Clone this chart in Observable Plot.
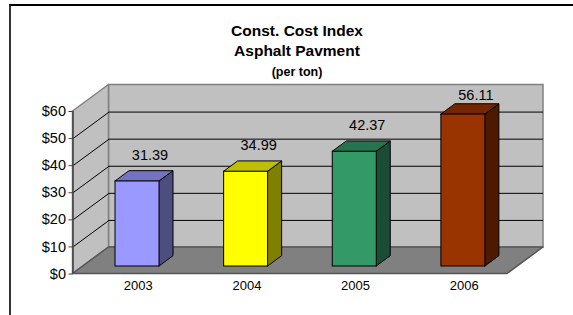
<!DOCTYPE html>
<html><head><meta charset="utf-8">
<script src="https://cdn.jsdelivr.net/npm/d3@7"></script>
<script src="https://cdn.jsdelivr.net/npm/@observablehq/plot@0.6"></script>
<style>
html,body{margin:0;padding:0;background:#fff;overflow:hidden;width:573px;height:315px;}
#frame{position:absolute;left:9px;top:4px;width:700px;height:400px;border-top:2px solid #000;border-left:2px solid #333;box-sizing:border-box;}
#wrap{position:absolute;left:0;top:0;width:573px;}
#title{height:84px;box-sizing:border-box;padding-top:21px;padding-left:21px;text-align:center;font-family:"Liberation Sans",Arial,sans-serif;font-weight:bold;font-size:15.5px;line-height:20.3px;color:#000;}
#title .sub{font-size:12.5px;display:block;}
#title span{display:block;}
</style></head>
<body>
<div id="frame"></div>
<div id="wrap"><div id="title"></div><div id="chart"></div></div>
<script>
// ---- data ----
const titleLines = ["Const. Cost Index", "Asphalt Pavment", "(per ton)"];
const years = ["2003", "2004", "2005", "2006"];
const values = [31.39, 34.99, 42.37, 56.11];
const yTicks = [0, 10, 20, 30, 40, 50, 60];

// ---- styles ----
const frontColors = ["#9999FF", "#FFFF00", "#339966", "#993300"];
const topColors   = ["#7373BF", "#BFBF00", "#267350", "#732600"];
const sideColors  = ["#4D4D80", "#808000", "#1A4D33", "#4D1A00"];

// ---- title ----
const t = document.getElementById("title");
titleLines.forEach((s, i) => {
  const sp = document.createElement("span");
  sp.textContent = s;
  if (i === 2) sp.className = "sub";
  t.appendChild(sp);
});

// ---- layout ----
const W = 573, H = 231, ML = 72.5, MR = 66, MT = 27, MB = 41.5;
const n = years.length;
const yMax = yTicks[yTicks.length - 1];
const XS = (W - ML - MR) / n;          // px per x unit
const YS = (H - MT - MB) / yMax;       // px per value unit
const px = p => p / XS, pv = p => p / YS;
const WX = px(36), WY = pv(26.5);      // wall depth
const BFX = px(10.2), BFY = pv(7.5);   // bar front plane offset
const BDX = px(14), BDY = pv(10.3);    // bar depth
const HW = px(22);                     // bar half width
const LX = px(12.5);                   // label x offset
const LABEL_MAX = yMax + WY - pv(10.5);

const rows = years.map((year, i) => {
  const c = i + 0.5 + BFX;
  return {year, value: values[i], l: c - HW, r: c + HW, c,
          front: frontColors[i], top: topColors[i], side: sideColors[i]};
});
const sides = rows.flatMap(d => [
  {year: d.year, x: d.r, y1: BFY, y2: d.value + BFY, fill: d.side},
  {year: d.year, x: d.r + BDX, y1: BFY + BDY, y2: d.value + BFY + BDY, fill: d.side}
]);
const tops = rows.flatMap(d => [
  {year: d.year, y: d.value + BFY, x1: d.l, x2: d.r, fill: d.top},
  {year: d.year, y: d.value + BFY + BDY, x1: d.l + BDX, x2: d.r + BDX, fill: d.top}
]);
const innerTicks = yTicks.filter(v => v > 0 && v < yMax);

const chart = Plot.plot({
  width: W, height: H,
  marginLeft: ML, marginRight: MR, marginTop: MT, marginBottom: MB,
  x: {domain: [0, n]},
  y: {domain: [0, yMax]},
  color: {type: "identity"},
  style: {fontFamily: "'Liberation Sans', Arial, sans-serif", color: "black", background: "transparent", overflow: "visible"},
  marks: [
    // back wall
    Plot.rect([0], {x1: WX, x2: n + WX, y1: WY, y2: yMax + WY, fill: "#C0C0C0", stroke: "#808080", strokeWidth: 1.5}),
    // left wall
    Plot.areaY([{x: 0, y1: 0, y2: yMax}, {x: WX, y1: WY, y2: yMax + WY}],
      {x: "x", y1: "y1", y2: "y2", fill: "#C0C0C0", stroke: "#808080", strokeWidth: 1.5}),
    // floor
    Plot.areaX([{y: 0, x1: 0, x2: n}, {y: WY, x1: WX, x2: n + WX}],
      {y: "y", x1: "x1", x2: "x2", fill: "#808080", stroke: "#555", strokeWidth: 1.5}),
    // gridlines on back wall
    Plot.ruleY(innerTicks, {y: d => d + WY, x1: WX, x2: n + WX, stroke: "black", strokeWidth: 1}),
    // diagonals on left wall
    Plot.link(innerTicks, {x1: 0, y1: d => d, x2: WX, y2: d => d + WY, stroke: "black", strokeWidth: 1}),
    // front left axis line
    Plot.ruleX([0], {y1: 0, y2: yMax, stroke: "#404040", strokeWidth: 1.5}),
    Plot.axisY(yTicks, {tickFormat: d => "$" + d, tickSize: 4, tickPadding: 3, fontSize: 14.5, stroke: "#404040"}),
    Plot.axisX(years.map((y, i) => i + 0.5), {tickFormat: d => years[Math.floor(d)], tickSize: 0, tickPadding: 7, dx: 11, fontSize: 13}),
    // bars
    Plot.areaY(sides, {x: "x", y1: "y1", y2: "y2", z: "year", fill: "fill", stroke: "black", strokeWidth: 1}),
    Plot.areaX(tops, {y: "y", x1: "x1", x2: "x2", z: "year", fill: "fill", stroke: "black", strokeWidth: 1}),
    Plot.rect(rows, {x1: "l", x2: "r", y1: BFY, y2: d => d.value + BFY, fill: "front", stroke: "black", strokeWidth: 1}),
    // value labels
    Plot.text(rows, {x: d => d.c + LX, y: d => Math.min(d.value + pv(33.5), LABEL_MAX), text: d => d.value.toFixed(2), fontSize: 14.5, fill: "black"})
  ]
});
document.getElementById("chart").appendChild(chart);
</script>
</body></html>
